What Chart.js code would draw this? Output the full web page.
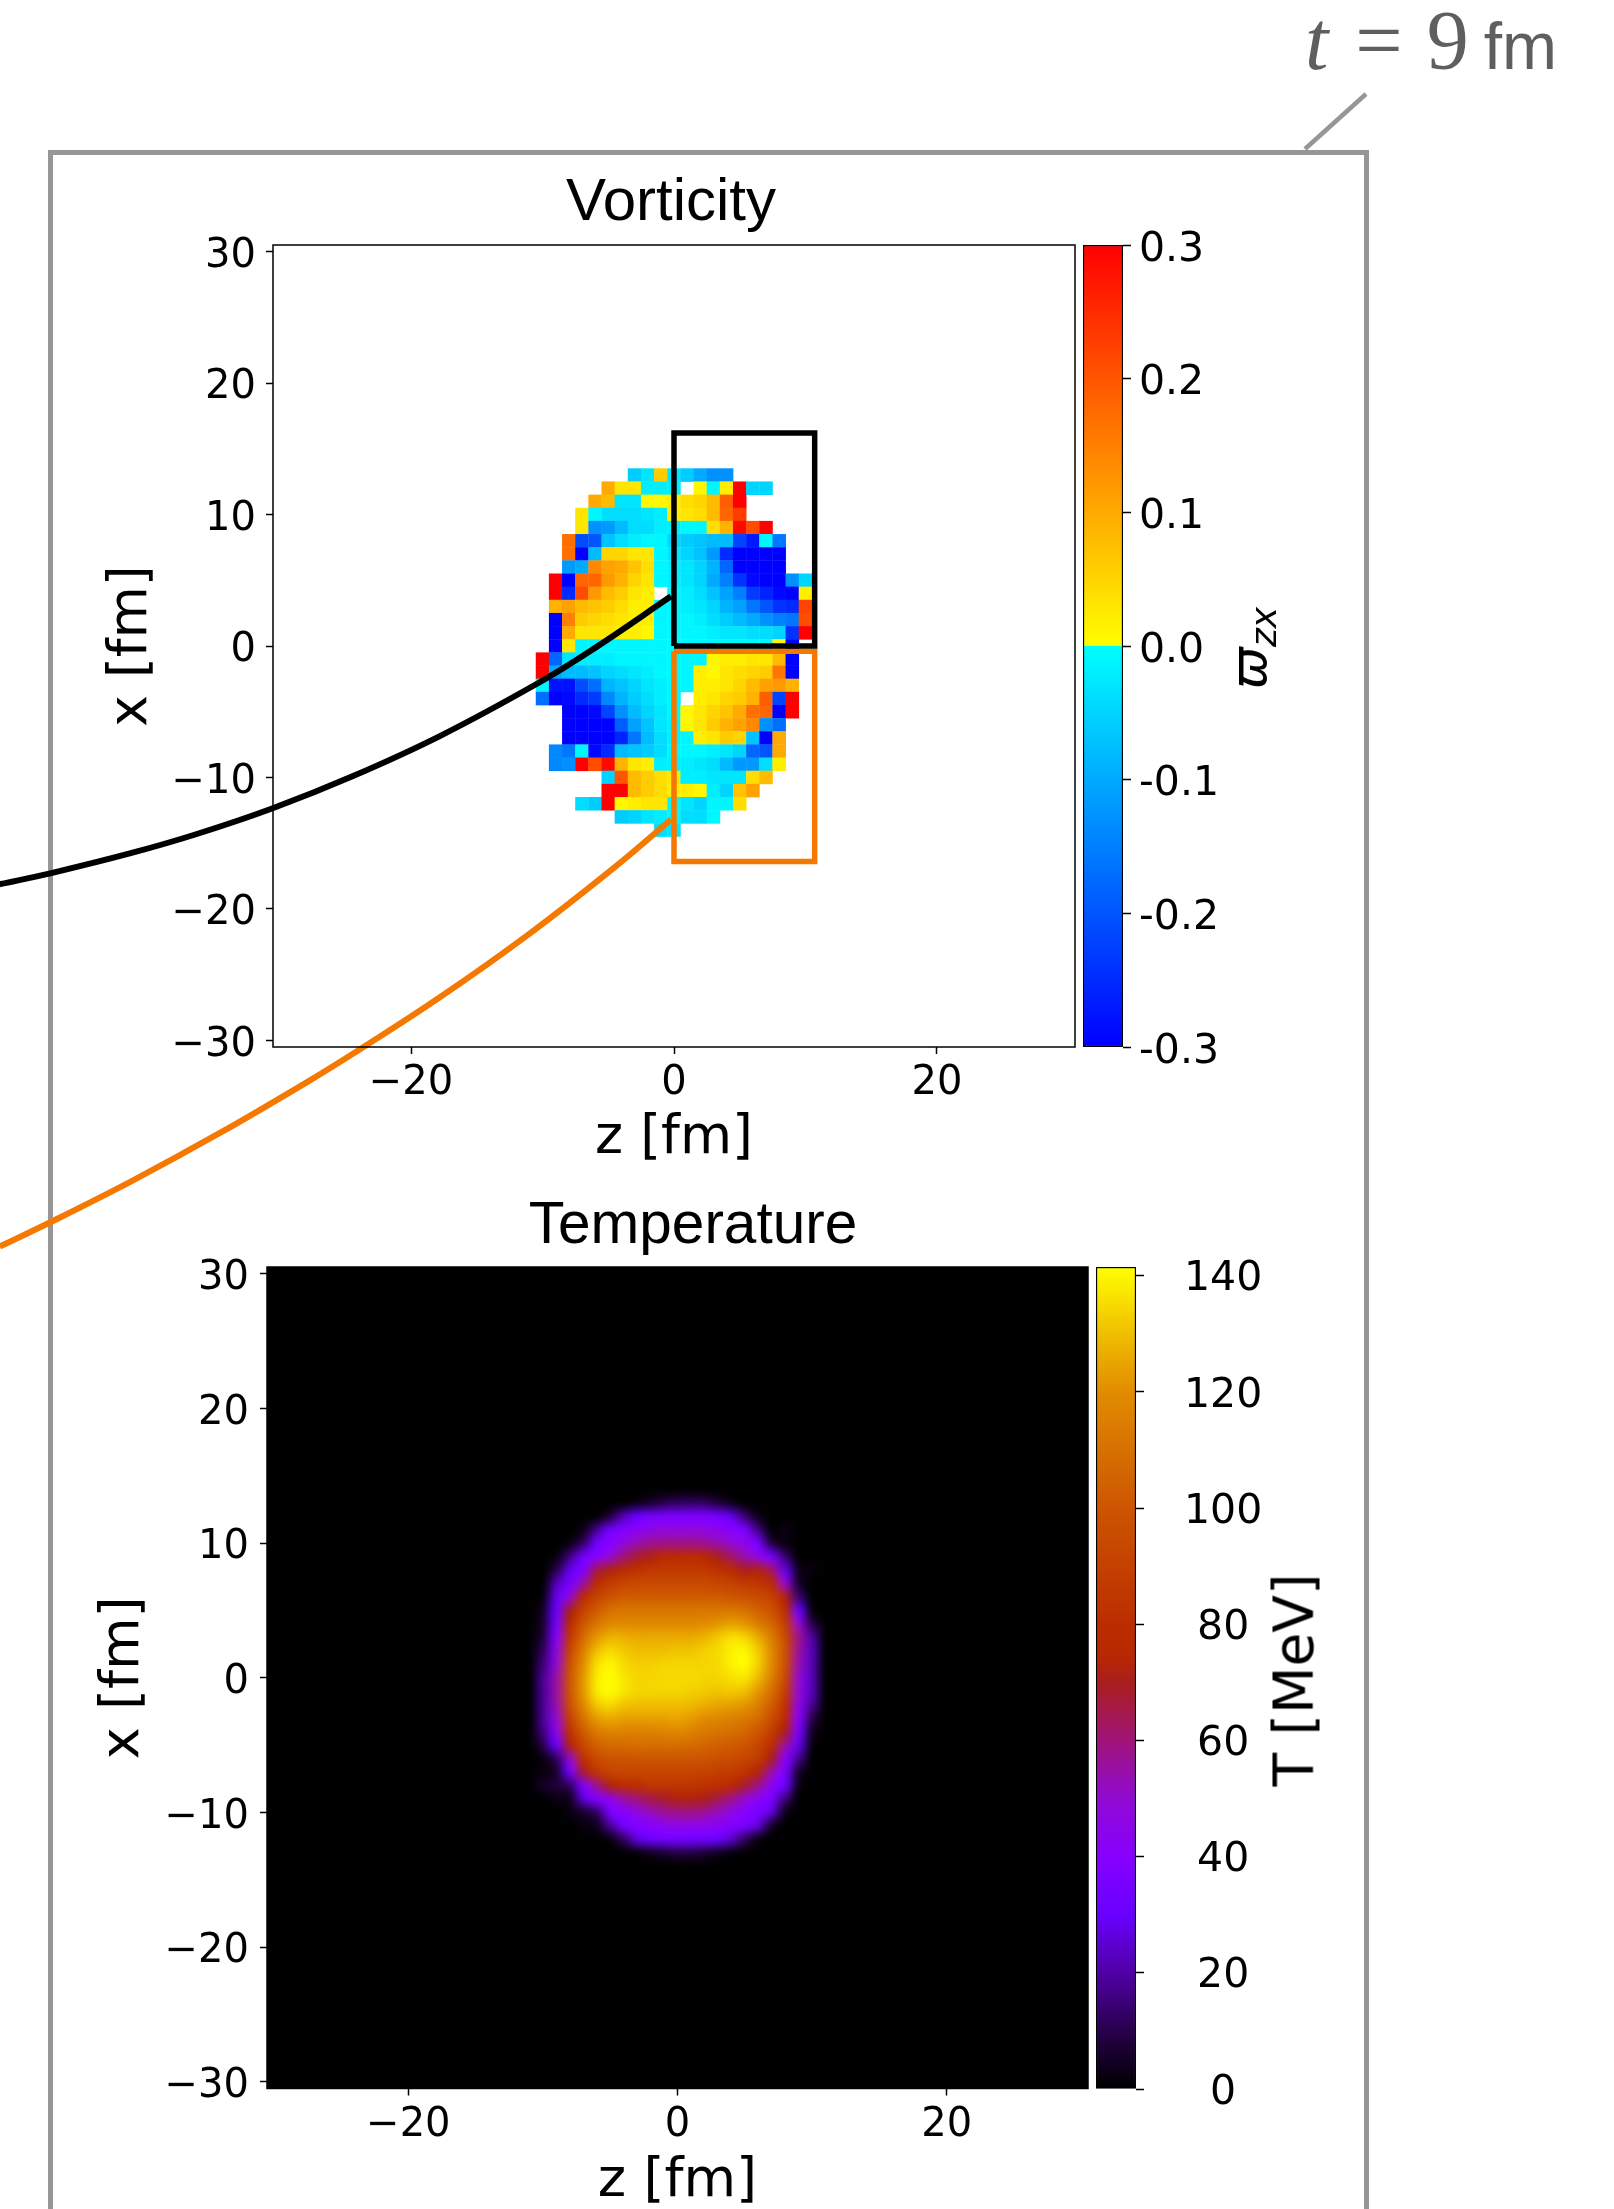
<!DOCTYPE html>
<html>
<head>
<meta charset="utf-8">
<title>Vorticity and temperature at t = 9 fm</title>
<script src="https://cdn.jsdelivr.net/npm/chart.js@4"></script>
<style>
  html, body { margin: 0; padding: 0; background: #fff; }
  #page { position: relative; width: 1614px; height: 2209px; overflow: hidden; background: #fff; color: #000; }
  canvas { position: absolute; left: 0; top: 0; }
  .label { position: absolute; white-space: pre; line-height: 1; }
  .title { font-family: "Liberation Sans", sans-serif; transform: translateX(-50%); }
  .side { font-family: "DejaVu Sans", sans-serif; transform: translate(-50%, -50%) rotate(-90deg); }
  #frame { position: absolute; left: 48px; top: 150px; width: 1320.5px; height: 2300px; box-sizing: border-box; border: 5px solid #969696; }
  #leader { position: absolute; left: 0; top: 0; }
</style>
</head>
<body>
<div id="page">
  <div id="frame"></div>
  <svg id="leader" width="1614" height="170"><line x1="1366" y1="94" x2="1305" y2="149" stroke="#969696" stroke-width="4.5"/></svg>
  <div class="label" id="stamp" style="left:1305px;top:-8px;font:84px 'Liberation Serif',serif;color:#5f5f5f"><i>t</i><span style="margin-left:27px">=</span><span style="margin-left:24px">9</span><span style="margin-left:15px;font:66px 'Liberation Sans',sans-serif">fm</span></div>
  <div class="label title" style="left:671px;top:170px;font-size:60px">Vorticity</div>
  <div class="label title" style="left:693px;top:1194px;font-size:58.5px">Temperature</div>
  <canvas id="tempChart" width="1614" height="2209"></canvas>
  <canvas id="tempBar" width="1614" height="2209"></canvas>
  <canvas id="vortBar" width="1614" height="2209"></canvas>
  <canvas id="vortChart" width="1614" height="2209"></canvas>
  <div class="label side" style="left:1249px;top:648px;font-size:50px"><i>ϖ</i><i style="font-size:36px;position:relative;top:10px">zx</i></div>
  <div class="label side" style="left:1294px;top:1680px;font-size:55px">T [MeV]</div>
</div>

<script>
// ---------- data ----------
const _ = null;

const zTicks = [-20, 0, 20];
const xTicks = [-30, -20, -10, 0, 10, 20, 30];
const vortBarTicks = [-0.3, -0.2, -0.1, 0, 0.1, 0.2, 0.3];
const tempBarTicks = [0, 20, 40, 60, 80, 100, 120, 140];

// vorticity in units of 0.01, 1 fm cells, blank cells stay white
const vortZ = [-10, -9, -8, -7, -6, -5, -4, -3, -2, -1, 0, 1, 2, 3, 4, 5, 6, 7, 8, 9, 10];
const vortX = [13, 12, 11, 10, 9, 8, 7, 6, 5, 4, 3, 2, 1, 0, -1, -2, -3, -4, -5, -6, -7, -8, -9, -10, -11, -12, -13, -14];
const vortRows = [
  [_,_,_,_,_,_,_,-6,-3,6,-3,-6,-10,-13,-13,_,_,_,_,_,_],
  [_,_,_,_,_,10,3,3,-2,-2,-2,_,1,-1,2,30,-5,-5,_,_,_],
  [_,_,_,_,10,8,-3,-3,1,1,2,4,5,8,19,30,_,_,_,_,_],
  [_,_,_,3,-1,-4,-4,-4,-3,-2,2,3,4,8,18,23,_,_,_,_,_],
  [_,_,_,3,-13,-12,-8,-4,-4,-2,-2,-1,-1,4,9,29,21,30,_,_,_],
  [_,_,17,-21,-20,-7,-4,-2,-1,-1,-5,-6,-7,-8,-8,-22,-27,-1,-16,_,_],
  [_,_,17,-30,-8,5,5,3,3,-1,-3,-5,-7,-12,-25,-30,-30,-30,-30,_,_],
  [_,_,-12,-10,14,11,10,7,4,-1,-2,-3,-5,-9,-18,-30,-30,-30,-30,_,_],
  [_,30,-30,18,18,12,9,5,3,-1,-2,-3,-5,-10,-15,-24,-29,-30,-30,-13,-5],
  [_,30,-25,21,12,8,6,3,2,_,-1,-2,-4,-7,-11,-15,-23,-26,-29,-30,2],
  [_,9,11,8,7,6,4,2,2,-1,-1,-2,-3,-5,-9,-11,-16,-20,-24,-25,22],
  [_,-30,15,6,5,4,3,2,2,-1,-1,-1,-2,-4,-6,-8,-10,-13,-15,-16,21],
  [_,-30,10,3,3,3,2,2,1,-1,-1,-1,-1,-2,-3,-3,-4,-4,-5,-24,30],
  [_,-30,3,-1,-1,-1,-1,-1,-1,-1,-1,-1,-1,-1,-1,-1,-1,-1,1,-30,_],
  [30,-18,-3,-2,-2,-2,-1,-1,-1,-1,-1,-1,-1,1,2,2,3,3,8,-30,_],
  [30,-10,-8,-8,-7,-5,-4,-3,-2,-1,-1,-1,2,1,3,4,5,6,16,-30,_],
  [-1,-28,-28,-21,-17,-9,-7,-5,-3,-2,-1,-1,2,2,3,5,8,11,12,9,_],
  [-17,-30,-29,-25,-23,-14,-9,-6,-4,-2,-1,_,2,3,5,6,9,19,-22,30,_],
  [_,_,-30,-30,-29,-22,-13,-8,-5,-3,-1,1,3,5,7,10,17,18,-30,30,_],
  [_,_,-30,-30,-30,-30,-19,-11,-7,-3,-2,1,3,6,9,11,14,-13,-17,_,_],
  [_,_,-30,-30,-30,-30,-26,-16,-8,-4,-2,-1,2,3,6,5,-7,-30,10,_,_],
  [_,-14,-16,-1,-29,-25,-8,-7,-6,-4,-1,-1,-1,-2,-3,-5,-18,-20,10,_,_],
  [_,-14,-13,30,21,29,9,3,2,-2,-2,-2,-3,-4,-8,-12,-12,-4,2,_,_],
  [_,_,_,_,_,-5,20,8,6,4,3,-2,-2,-3,-3,-3,4,8,_,_,_],
  [_,_,_,_,_,30,30,8,6,4,2,2,1,-2,-5,7,11,_,_,_,_],
  [_,_,_,-4,-6,30,1,2,3,3,-1,-3,-5,-1,-1,4,_,_,_,_,_],
  [_,_,_,_,_,_,-6,-5,-3,-2,-1,-4,-4,-1,_,_,_,_,_,_,_],
  [_,_,_,_,_,_,_,_,_,-4,-3,_,_,_,_,_,_,_,_,_,_]
];

// temperature in MeV, read every 1 fm, everything outside this window is 0
const tempZ = [-13, -12, -11, -10, -9, -8, -7, -6, -5, -4, -3, -2, -1, 0, 1, 2, 3, 4, 5, 6, 7, 8, 9, 10, 11, 12, 13];
const tempX = [14, 13, 12, 11, 10, 9, 8, 7, 6, 5, 4, 3, 2, 1, 0, -1, -2, -3, -4, -5, -6, -7, -8, -9, -10, -11, -12, -13, -14];
const tempRows = [
  [0,0,0,0,0,0,0,0,0,0,0,0,0,0,0,0,0,0,0,0,0,0,0,0,0,0,0],
  [0,0,0,0,0,0,0,0,0,0,3,6,10,12,13,12,8,3,0,0,0,0,0,0,0,0,0],
  [0,0,0,0,0,0,0,0,8,22,30,34,36,36,36,36,34,28,14,3,0,0,0,0,0,0,0],
  [0,0,0,0,0,0,3,18,33,38,42,46,48,48,48,47,44,40,36,16,0,3,0,0,0,0,0],
  [0,0,0,0,0,2,13,33,40,48,54,57,58,58,58,57,54,50,45,35,8,2,0,0,0,0,0],
  [0,0,0,0,2,16,33,40,50,60,68,72,76,78,78,75,70,62,54,46,35,14,0,0,0,0,0],
  [0,0,0,0,10,28,38,65,72,78,82,85,86,86,86,85,82,78,70,72,62,28,4,2,0,0,0],
  [0,0,0,0,22,34,55,78,88,92,94,94,94,94,94,94,92,90,87,84,78,50,6,0,0,0,0],
  [0,0,0,2,28,48,78,92,98,102,102,102,102,102,102,102,102,100,98,95,90,72,15,0,0,0,0],
  [0,0,0,5,30,70,90,102,110,112,112,112,112,112,112,112,112,112,110,104,98,80,30,2,0,0,0],
  [0,0,0,6,34,78,100,112,118,119,119,119,119,119,119,120,122,124,122,114,106,88,50,10,0,0,0],
  [0,0,0,8,40,85,108,122,128,127,126,126,126,126,126,128,132,136,134,126,114,95,58,20,0,0,0],
  [0,0,0,12,46,92,115,130,135,132,130,130,130,131,131,133,135,139,140,132,118,98,56,22,0,0,0],
  [0,0,0,15,50,98,120,136,140,135,133,133,134,134,134,134,135,139,141,133,118,97,54,22,0,0,0],
  [0,0,0,18,54,100,122,138,141,137,134,134,135,135,135,134,134,136,137,129,115,94,50,22,0,0,0],
  [0,0,0,18,55,100,122,138,141,137,134,134,134,134,133,132,131,132,130,122,109,88,50,22,0,0,0],
  [0,0,0,18,54,97,118,132,135,131,130,130,130,130,129,127,125,124,122,115,103,82,46,18,0,0,0],
  [0,0,0,18,50,90,110,123,126,124,124,124,124,125,123,120,118,116,113,108,96,78,40,10,0,0,0],
  [0,0,0,16,44,82,102,113,117,116,116,116,117,118,116,113,111,109,106,100,88,70,36,5,0,0,0],
  [0,0,0,10,30,72,93,104,108,108,109,109,109,109,108,106,104,102,99,92,80,56,28,2,0,0,0],
  [0,0,0,2,12,50,82,94,99,99,100,100,100,100,100,99,97,95,92,87,70,40,18,0,0,0,0],
  [0,0,0,2,6,34,68,84,91,92,92,92,92,92,91,91,89,87,83,73,54,36,6,0,0,0,0],
  [0,0,0,5,8,12,38,58,72,78,80,84,84,84,84,82,80,76,68,58,42,30,3,0,0,0,0],
  [0,0,0,0,2,4,25,38,45,55,60,65,68,72,72,70,65,58,50,42,36,15,0,0,0,0,0],
  [0,0,0,0,0,2,6,12,36,40,46,52,56,58,58,56,52,46,40,36,25,3,0,0,0,0,0],
  [0,0,0,0,0,0,2,4,18,34,38,40,44,45,45,44,42,38,35,25,5,0,0,0,0,0,0],
  [0,0,0,0,0,0,0,0,2,12,26,31,33,33,33,32,30,24,12,2,0,0,0,0,0,0,0],
  [0,0,0,0,0,0,0,0,0,0,2,4,7,9,9,7,4,2,0,0,0,0,0,0,0,0,0],
  [0,0,0,0,0,0,0,0,0,0,0,0,0,0,0,0,0,0,0,0,0,0,0,0,0,0,0]
];

// colour bars
const vortBarStops = [-0.3, 0, 0, 0.3];
const vortBarColors = ['#0000ff', '#00ffff', '#ffff00', '#ff0000'];
const tempBarStops = [0, 10, 20, 30, 40, 50, 60, 70, 75, 80, 100, 120, 130, 141.5];
const tempBarColors = [[0,0,0], [40,0,75], [80,0,165], [105,0,255], [135,0,255], [145,10,210], [160,20,120],
  [170,30,30], [185,40,0], [187,45,0], [205,85,0], [225,140,0], [240,190,0], [255,255,0]];

// zoom boxes and the lines that leave them, in fm
const blackBoxZ = [0, 10.7, 10.7, 0, 0];
const blackBoxX = [0, 0, 16.2, 16.2, 0];
const orangeBoxZ = [0, 10.7, 10.7, 0, 0];
const orangeBoxX = [-0.4, -0.4, -16.4, -16.4, -0.4];
const blackCurveZ = [-0.23, -6.09, -10.12, -17.81, -24.5, -30.52, -36.23, -41.25, -47.44, -51.29];
const blackCurveX = [3.78, -0.2, -2.7, -6.85, -9.93, -12.34, -14.28, -15.74, -17.29, -18.12];
const orangeCurveZ = [-0.23, -4.41, -11.11, -17.81, -23.82, -27.85, -34.54, -41.25, -47.44, -51.29];
const orangeCurveX = [-13.19, -16.74, -21.97, -26.72, -30.63, -33.13, -37.04, -40.7, -43.83, -45.68];

// ---------- helpers ----------
const BLACK = '#000000';
const ORANGE = '#f57800';
Chart.defaults.font.family = '"DejaVu Sans", sans-serif';
Chart.defaults.color = BLACK;
Chart.defaults.animation = false;

function vortColor(v) {
  const g = Math.round(255 * (1 - Math.abs(v) / 30));
  return v < 0 ? `rgb(0,${g},255)` : `rgb(255,${g},0)`;
}

function tempColor(v) {
  let i = 0;
  while (i < tempBarStops.length - 2 && v > tempBarStops[i + 1]) i++;
  const t = Math.min(1, (v - tempBarStops[i]) / (tempBarStops[i + 1] - tempBarStops[i]));
  return tempBarColors[i].map((c, k) => Math.round(c + (tempBarColors[i + 1][k] - c) * t));
}

function pairs(zs, xs) {
  return zs.map((z, i) => ({ x: z, y: xs[i] }));
}

// spine on all four sides of the axes
const spines = {
  id: 'spines',
  afterDatasetsDraw(chart) {
    const a = chart.chartArea, c = chart.ctx;
    c.save();
    c.strokeStyle = BLACK;
    c.lineWidth = 1.5;
    c.strokeRect(a.left, a.top, a.right - a.left, a.bottom - a.top);
    c.restore();
  }
};

// the temperature map is painted from its dataset through the two scales, smoothed like the original
const tempImage = {
  id: 'tempImage',
  beforeDatasetsDraw(chart) {
    const a = chart.chartArea, c = chart.ctx;
    const sx = chart.scales.x, sy = chart.scales.y;
    const off = document.createElement('canvas');
    off.width = tempZ.length;
    off.height = tempX.length;
    const oc = off.getContext('2d');
    const img = oc.createImageData(off.width, off.height);
    chart.data.datasets[0].data.forEach(p => {
      const k = (tempX.indexOf(p.y) * off.width + tempZ.indexOf(p.x)) * 4;
      const rgb = tempColor(p.v);
      img.data[k] = rgb[0];
      img.data[k + 1] = rgb[1];
      img.data[k + 2] = rgb[2];
      img.data[k + 3] = 255;
    });
    oc.putImageData(img, 0, 0);
    c.save();
    c.fillStyle = BLACK;
    c.fillRect(a.left, a.top, a.right - a.left, a.bottom - a.top);
    c.imageSmoothingEnabled = true;
    c.imageSmoothingQuality = 'high';
    const left = sx.getPixelForValue(tempZ[0] - 0.5);
    const right = sx.getPixelForValue(tempZ[tempZ.length - 1] + 0.5);
    const top = sy.getPixelForValue(tempX[0] + 0.5);
    const bottom = sy.getPixelForValue(tempX[tempX.length - 1] - 0.5);
    c.drawImage(off, left, top, right - left, bottom - top);
    c.restore();
  }
};

// x or y scale of a map panel: fixed range, ticks from the lists above
function mapScale(ticks, title, size, font, pad, axis, titleSize) {
  return {
    type: 'linear',
    position: axis === 'x' ? 'bottom' : 'left',
    min: -30.5,
    max: 30.5,
    afterBuildTicks: s => { s.ticks = ticks.map(v => ({ value: v })); },
    afterFit: s => { if (axis === 'x') s.height = size; else s.width = size; },
    grid: { drawOnChartArea: false, drawTicks: true, tickLength: 7, tickWidth: 1.5, tickColor: BLACK },
    border: { display: false },
    ticks: {
      font: { size: font },
      color: BLACK,
      padding: pad,
      labelOffset: axis === 'x' ? 0 : 5,
      autoSkip: false,
      maxRotation: 0,
      callback: v => String(v).replace('-', '\u2212')
    },
    title: { display: true, text: title, color: BLACK, font: { size: titleSize, lineHeight: 1 }, padding: 0 }
  };
}

function lineSet(points, color, width) {
  return {
    type: 'scatter',
    data: points,
    showLine: true,
    borderColor: color,
    borderWidth: width,
    borderJoinStyle: 'miter',
    pointRadius: 0,
    clip: false,
    order: 1
  };
}

// ---------- vorticity ----------
const vortCells = [];
vortRows.forEach((row, r) => row.forEach((v, c) => {
  if (v !== null) vortCells.push({ x: vortZ[c], y: vortX[r], v: v });
}));

new Chart(document.getElementById('vortChart'), {
  type: 'scatter',
  data: {
    datasets: [
      {
        label: 'vorticity',
        data: vortCells,
        order: 2,
        pointStyle: 'rect',
        borderWidth: 0,
        pointBorderWidth: 0,
        pointBackgroundColor: ctx => vortColor(ctx.raw.v),
        pointRadius: ctx => {
          const s = ctx.chart.scales.x;
          return (s.getPixelForValue(1) - s.getPixelForValue(0)) * 1.03 / Math.SQRT2;
        }
      },
      Object.assign(lineSet(pairs(blackBoxZ, blackBoxX), BLACK, 5.5), { tension: 0 }),
      Object.assign(lineSet(pairs(orangeBoxZ, orangeBoxX), ORANGE, 5.5), { tension: 0 }),
      Object.assign(lineSet(pairs(blackCurveZ, blackCurveX), BLACK, 6), { tension: 0.4, capBezierPoints: false }),
      Object.assign(lineSet(pairs(orangeCurveZ, orangeCurveX), ORANGE, 6), { tension: 0.4, capBezierPoints: false })
    ]
  },
  options: {
    responsive: false,
    layout: { padding: { left: 105, top: 245, right: 539, bottom: 1043 } },
    plugins: { legend: { display: false }, tooltip: { enabled: false } },
    scales: {
      x: mapScale(zTicks, 'z [fm]', 119, 40, 6, 'x', 53.5),
      y: mapScale(xTicks, 'x [fm]', 168, 40, 10, 'y', 53.5)
    }
  },
  plugins: [spines]
});

// ---------- temperature ----------
const tempCells = [];
tempRows.forEach((row, r) => row.forEach((v, c) => {
  tempCells.push({ x: tempZ[c], y: tempX[r], v: v });
}));

new Chart(document.getElementById('tempChart'), {
  type: 'scatter',
  data: { datasets: [{ label: 'temperature', data: tempCells, pointRadius: 0 }] },
  options: {
    responsive: false,
    layout: { padding: { left: 97, top: 1267, right: 526, bottom: 0 } },
    plugins: { legend: { display: false }, tooltip: { enabled: false } },
    scales: {
      x: mapScale(zTicks, 'z [fm]', 120.5, 40, 6, 'x', 54),
      y: mapScale(xTicks, 'x [fm]', 170, 40, 11, 'y', 54)
    }
  },
  plugins: [tempImage, spines]
});

// ---------- colour bars ----------
function barChart(id, stops, colors, ticks, lo, hi, pad, tickPad, align, fmt, offset) {
  new Chart(document.getElementById(id), {
    type: 'bar',
    data: {
      labels: [''],
      datasets: [{
        data: [[lo, hi]],
        barPercentage: 1,
        categoryPercentage: 1,
        borderColor: BLACK,
        borderWidth: 1.5,
        borderSkipped: false,
        backgroundColor: ctx => {
          const s = ctx.chart.scales.y;
          if (!s || !ctx.chart.chartArea) return BLACK;
          const g = ctx.chart.ctx.createLinearGradient(0, s.getPixelForValue(lo), 0, s.getPixelForValue(hi));
          stops.forEach((v, i) => g.addColorStop((v - lo) / (hi - lo), colors[i]));
          return g;
        }
      }]
    },
    options: {
      responsive: false,
      layout: { padding: pad },
      plugins: { legend: { display: false }, tooltip: { enabled: false } },
      scales: {
        x: { display: false },
        y: {
          position: 'right',
          min: lo,
          max: hi,
          afterBuildTicks: s => { s.ticks = ticks.map(v => ({ value: v })); },
          afterFit: s => { s.width = 200; },
          grid: { drawOnChartArea: false, tickLength: 8, tickWidth: 1.5, tickColor: BLACK },
          border: { display: false },
          ticks: { font: { size: 41 }, color: BLACK, padding: tickPad, labelOffset: offset, crossAlign: align, autoSkip: false, callback: fmt }
        }
      }
    }
  });
}

barChart('vortBar', vortBarStops, vortBarColors, vortBarTicks, -0.3, 0.3,
  { left: 1083, top: 245, right: 291, bottom: 1162 }, 8, 'near', v => v.toFixed(1), 5);

barChart('tempBar', tempBarStops, tempBarColors.map(c => `rgb(${c.join(',')})`), tempBarTicks, 0, 141.5,
  { left: 1096, top: 1267, right: 278, bottom: 120 }, 40, 'center', v => String(v), 4);
</script>
</body>
</html>
